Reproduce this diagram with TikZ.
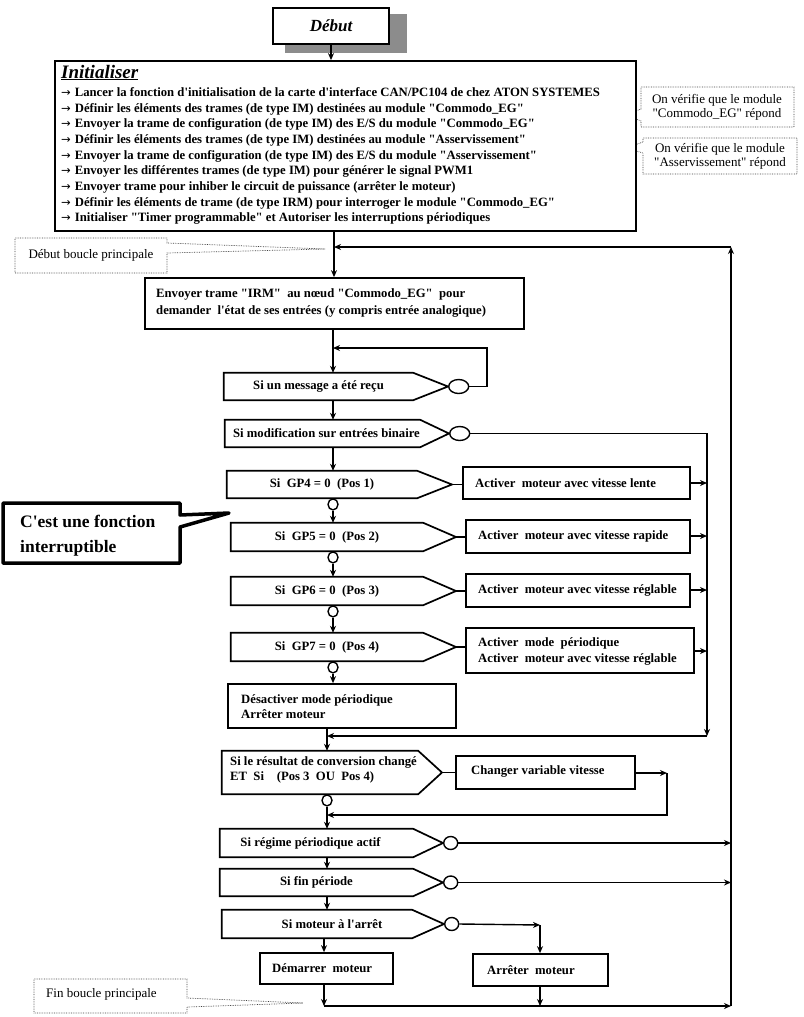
\documentclass[tikz,border=0pt]{standalone}
\usepackage{fontspec}
\setmainfont{Liberation Serif}[Ligatures=TeXOff]
\newfontfamily\arrf{DejaVu Sans}
\usetikzlibrary{arrows.meta,shapes.geometric}
\newcommand\fB{\fontsize{12.7}{17}\selectfont\bfseries}
\newcommand\fR{\fontsize{13}{13.5}\selectfont}
\newcommand\fT{\fontsize{17}{20}\selectfont\bfseries\itshape}
\newcommand\fI{\fontsize{19}{20}\selectfont\bfseries\itshape}
\newcommand\fC{\fontsize{17.5}{24.5}\selectfont\bfseries}
\newcommand\bxn[6]{\node[bx,minimum width={#4-#2},minimum height={#5-#3}] (#1) at ({(#2+#4)/2},{(#3+#5)/2}) {#6};}
\newcommand\decn[7]{%
  \node[inner sep=0pt,font=\fB,minimum width={#4-#2},minimum height={#6-#3}] (#1) at ({(#2+#4)/2},{(#3+#6)/2}) {#7};%
  \coordinate (#1t) at (#5,{(#3+#6)/2});%
  \draw[shp] (#1.north west) -- (#1.north east) -- (#1t) -- (#1.south east) -- (#1.south west) -- cycle;}
\newcommand\il[2]{\node[anchor=base west,inner sep=0pt,font=\fB] (il#1) at (61,{96.3+15.7*(#1-1)}) {{\arrf\mdseries\fontsize{11.5}{12}\selectfont →}\hspace{4pt}#2};}
\begin{document}
\begin{tikzpicture}[x=1pt,y=-1pt,
  arr/.style={draw,line width=1.4pt,-{Stealth[length=7pt,width=6pt]}},
  ln/.style={draw,line width=1.4pt},
  shp/.style={draw,line width=1.7pt},
  bx/.style={draw,line width=1.7pt,fill=white,inner sep=0pt,font=\fB},
  tx/.style={inner sep=0pt,font=\fB,align=left,anchor=west},
  ring/.style={draw,ellipse,line width=1.4pt,fill=white,inner sep=0pt,minimum width=14pt,minimum height=13pt},
  bring/.style={ring,minimum width=20pt,minimum height=14pt},
  sring/.style={ring,minimum width=10pt,minimum height=11pt},
  dotbox/.style={draw=black!75,densely dotted,line width=0.7pt,fill=white},
]
\useasboundingbox (0,0) rectangle (803,1017);
\fill[white] (0,0) rectangle (803,1017);

% spine coordinates
\coordinate (s1) at (334,0);
\coordinate (s2) at (333,0);
\coordinate (s3) at (327,0);
\coordinate (s4) at (324,0);
\coordinate (rl) at (707,0);
\coordinate (ol) at (731,0);

% Debut
\fill[black!45] (285,14) rectangle (407,53);
\node[bx,line width=2pt,minimum width=116,minimum height=36,font=\fT] (debut) at (331,26) {Début};

% right callouts (drawn before the Initialiser box)
\draw[dotbox] (641,87) -- (794,87) -- (794,127) -- (641,127) -- (641,121) -- (626,115) -- (641,109) -- cycle;
\node[font=\fR,align=center,inner sep=0pt] (cb1) at (717,107.5) {On vérifie que le module\\"Commodo\_EG" répond};
\draw[dotbox] (643,138) -- (797,138) -- (797,174) -- (643,174) -- (643,153) -- (626,148) -- (643,142) -- cycle;
\node[font=\fR,align=center,inner sep=0pt] (cb2) at (720,156.5) {On vérifie que le module\\"Asservissement" répond};

% Initialiser
\bxn{init}{55}{61}{636}{231}{}
\node[anchor=base west,inner sep=0pt,font=\fI] (initt) at (61,78) {\underline{Initialiser}};
\il{1}{Lancer la fonction d'initialisation de la carte d'interface CAN/PC104 de chez ATON SYSTEMES}
\il{2}{Définir les éléments des trames (de type IM) destinées au module "Commodo\_EG"}
\il{3}{Envoyer la trame de configuration (de type IM) des E/S du module "Commodo\_EG"}
\il{4}{Définir les éléments des trames (de type IM) destinées au module "Asservissement"}
\il{5}{Envoyer la trame de configuration (de type IM) des E/S du module "Asservissement"}
\il{6}{Envoyer les différentes trames (de type IM) pour générer le signal PWM1}
\il{7}{Envoyer trame pour inhiber le circuit de puissance (arrêter le moteur)}
\il{8}{Définir les éléments de trame (de type IRM) pour interroger le module "Commodo\_EG"}
\il{9}{Initialiser "Timer programmable" et Autoriser les interruptions périodiques}
\draw[arr] (debut.south) -- (init.north -| debut.south);

% Debut boucle callout
\draw[dotbox] (15,238) -- (167,238) -- (167,243) -- (325,249) -- (167,253) -- (167,273) -- (15,273) -- cycle;
\node[font=\fR,inner sep=0pt] (dbp) at (91,255) {Début boucle principale};

% IRM
\bxn{irm}{145}{278}{524}{329}{}
\node[tx,font=\fontsize{12.7}{17}\selectfont\bfseries] (irmt) at (156,302.5) {Envoyer trame "IRM"\ \ au nœud "Commodo\_EG"\ \ pour\\demander\ \ l'état de ses entrées (y compris entrée analogique)};
\coordinate (j1) at (334,247);
\draw[arr] (init.south -| s1) -- (irm.north -| s1);

% decisions
\decn{d1}{224}{373}{413}{448}{400}{Si un message a été reçu}
\node[bring,anchor=west] (c1) at (d1t) {};
\coordinate (l1) at (487,348);
\coordinate (j2) at (333,348);
\draw[arr] (irm.south -| s2) -- (d1.north -| s2);
\draw[arr] (c1.east) -| (l1) -- (j2);

\decn{d2}{225}{420}{420}{449}{447}{\hspace*{8pt}Si modification sur entrées binaire}
\node[bring,anchor=west] (c2) at (d2t) {};
\draw[arr] (d1.south -| s2) -- (d2.north -| s2);
\coordinate (rlb) at (707,736);
\coordinate (j3) at (327,736);
\draw[arr] (c2.east) -- (c2.east -| rl) -- (rlb);
\draw[arr] (rlb) -- (j3);

\decn{g4}{227}{471}{417}{452}{498}{Si\ \ GP4 = 0\ \ (Pos 1)}
\decn{g5}{231}{523}{423}{456}{551}{Si\ \ GP5 = 0\ \ (Pos 2)}
\decn{g6}{231}{577}{423}{456}{605}{Si\ \ GP6 = 0\ \ (Pos 3)}
\decn{g7}{231}{633}{423}{456}{661}{Si\ \ GP7 = 0\ \ (Pos 4)}
\draw[arr] (d2.south -| s2) -- (g4.north -| s2);

\bxn{a4}{463}{467}{690}{499}{}
\node[tx] (a4x) at (475,483) {Activer\ \ moteur avec vitesse lente};
\bxn{a5}{466}{520}{690}{553}{}
\node[tx] (a5x) at (478,536) {Activer\ \ moteur avec vitesse rapide};
\bxn{a6}{466}{574}{690}{607}{}
\node[tx] (a6x) at (478,590) {Activer\ \ moteur avec vitesse réglable};
\bxn{a7}{466}{628}{694}{673}{}
\node[tx,font=\fontsize{12.7}{16}\selectfont\bfseries] (a7x) at (478,651) {Activer\ \ mode\ \ périodique\\Activer\ \ moteur avec vitesse réglable};
\foreach \g in {4,5,6,7} {
  \draw[ln] (g\g t) -- (a\g.west |- g\g t);
  \draw[arr] (a\g.east |- a\g x) -- (a\g x -| rl);
}
\node[sring,anchor=north] (r4) at (g4.south -| s2) {};
\node[sring,anchor=north] (r5) at (g5.south -| s2) {};
\node[sring,anchor=north] (r6) at (g6.south -| s2) {};
\node[sring,anchor=north] (r7) at (g7.south -| s2) {};
\draw[arr] (r4.south) -- (g5.north -| r4.south);
\draw[arr] (r5.south) -- (g6.north -| r5.south);
\draw[arr] (r6.south) -- (g7.north -| r6.south);

\bxn{des}{228}{684}{456}{728}{}
\node[tx,font=\fontsize{12.7}{15}\selectfont\bfseries] (desx) at (241,706.5) {Désactiver mode périodique\\Arrêter moteur};
\draw[arr] (r7.south) -- (des.north -| r7.south);

% C'est une fonction interruptible
\draw[line width=3.5pt,line join=round,fill=white] (3,503) -- (180,503) -- (180,515) -- (229,513) -- (180,527) -- (180,563) -- (3,563) -- cycle;
\node[tx,font=\fC] (cest) at (20,535.5) {C'est une fonction\\interruptible};

% conversion
\decn{conv}{222}{751}{418}{442}{794}{}
\node[tx,font=\fontsize{12.7}{14.5}\selectfont\bfseries] (convx) at (230,770) {Si le résultat de conversion changé\\ET\ \ Si\ \ \ \ (Pos 3\ \ OU\ \ Pos 4)};
\draw[arr] (des.south -| s3) -- (conv.north -| s3);
\bxn{chg}{456}{756}{635}{789}{}
\node[tx] (chgx) at (471,771) {Changer variable vitesse};
\draw[ln] (convt) -- (chg.west |- convt);
\coordinate (k1) at (667,773);
\coordinate (k2) at (667,815);
\coordinate (k3) at (327,815);
\draw[arr] (chg.east |- k1) -- (k1);
\draw[arr] (k1) -- (k2) -- (k3);
\node[sring,anchor=north] (r8) at (conv.south -| s3) {};

% lower decisions
\decn{reg}{220}{829}{413}{443}{857}{Si régime périodique actif\hspace*{12pt}}
\node[ring,anchor=west] (c3) at (regt) {};
\draw[arr] (r8.south) -- (reg.north -| r8.south);
\draw[arr] (c3.east) -- (c3.east -| ol);

\decn{fin}{220}{869}{413}{443}{896}{Si fin période}
\node[ring,anchor=west] (c4) at (fint) {};
\draw[arr] (reg.south -| s3) -- (fin.north -| s3);
\draw[arr] (c4.east) -- (c4.east -| ol);

\decn{mot}{222}{910}{412}{444}{938}{\hspace*{30pt}Si moteur à l'arrêt}
\node[ring,anchor=west] (c5) at (mott) {};
\draw[arr] (fin.south -| s3) -- (mot.north -| s3);

\bxn{dem}{260}{953}{393}{984}{}
\node[tx] (demx) at (272,968) {Démarrer\ \ moteur};
\bxn{arrm}{473}{954}{608}{986}{}
\node[tx] (arrx) at (487,970) {Arrêter\ \ moteur};
\coordinate (m1) at (540,925);
\draw[arr] (c5.east) -- (m1);
\draw[arr] (m1) -- (arrm.north -| m1);
\draw[arr] (mot.south -| s4) -- (dem.north -| s4);

% bottom loop
\coordinate (b1) at (324,1006);
\coordinate (b2) at (540,1006);
\coordinate (b3) at (731,1006);
\coordinate (t2) at (731,247);
\draw[arr] (dem.south -| b1) -- (b1);
\draw[arr] (arrm.south -| b2) -- (b2);
\draw[arr] (b1) -- (b3);
\draw[arr] (b3) -- (t2);
\draw[arr] (t2) -- (j1);

% Fin boucle callout
\draw[dotbox] (34,979) -- (187,979) -- (187,998) -- (303,1003) -- (187,1007) -- (187,1013) -- (34,1013) -- cycle;
\node[font=\fR,inner sep=0pt,anchor=west] (fbp) at (46,994) {Fin boucle principale};
\end{tikzpicture}
\end{document}
